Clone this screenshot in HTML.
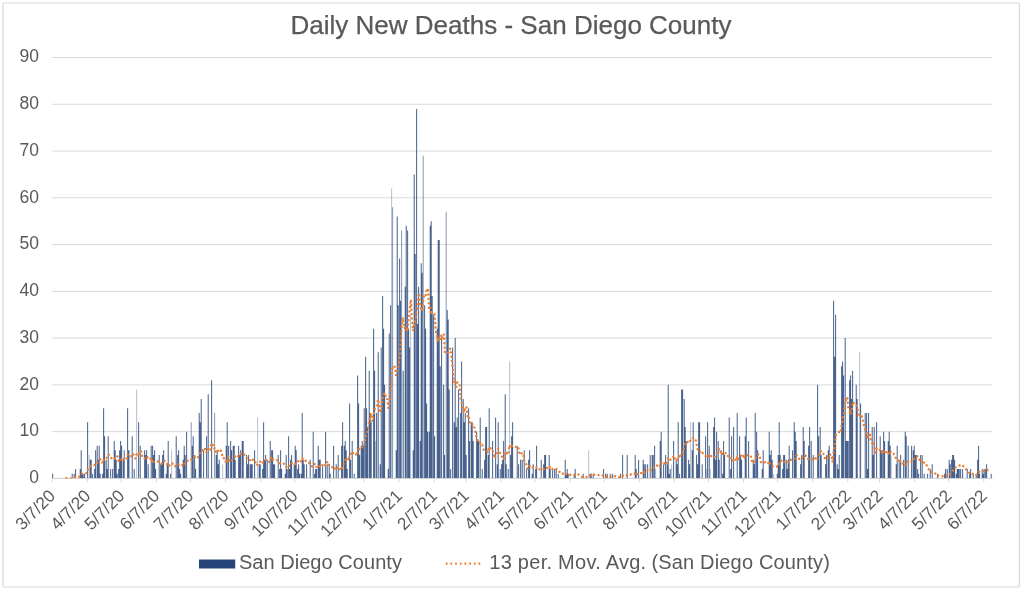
<!DOCTYPE html><html><head><meta charset="utf-8"><title>Daily New Deaths - San Diego County</title>
<style>html,body{margin:0;padding:0;background:#fff}svg{display:block;will-change:transform}text{font-family:"Liberation Sans",sans-serif;fill:#595959}</style></head><body>
<svg width="1023" height="593" viewBox="0 0 1023 593">
<rect x="0" y="0" width="1023" height="593" fill="#fff"/>
<rect x="3" y="3" width="1016.4" height="584" rx="1.2" fill="none" stroke="#d6d6d6" stroke-width="1.15"/>
<text x="511" y="33.5" font-size="26" text-anchor="middle" textLength="441" lengthAdjust="spacing" stroke="#595959" stroke-width="0.25">Daily New Deaths - San Diego County</text>
<line x1="52.20" y1="478.40" x2="992.40" y2="478.40" stroke="#d9d9d9" stroke-width="1"/>
<text x="38.9" y="483.20" font-size="17.5" text-anchor="end">0</text>
<line x1="52.20" y1="431.63" x2="992.40" y2="431.63" stroke="#d9d9d9" stroke-width="1"/>
<text x="38.9" y="436.43" font-size="17.5" text-anchor="end">10</text>
<line x1="52.20" y1="384.87" x2="992.40" y2="384.87" stroke="#d9d9d9" stroke-width="1"/>
<text x="38.9" y="389.67" font-size="17.5" text-anchor="end">20</text>
<line x1="52.20" y1="338.10" x2="992.40" y2="338.10" stroke="#d9d9d9" stroke-width="1"/>
<text x="38.9" y="342.90" font-size="17.5" text-anchor="end">30</text>
<line x1="52.20" y1="291.33" x2="992.40" y2="291.33" stroke="#d9d9d9" stroke-width="1"/>
<text x="38.9" y="296.13" font-size="17.5" text-anchor="end">40</text>
<line x1="52.20" y1="244.57" x2="992.40" y2="244.57" stroke="#d9d9d9" stroke-width="1"/>
<text x="38.9" y="249.37" font-size="17.5" text-anchor="end">50</text>
<line x1="52.20" y1="197.80" x2="992.40" y2="197.80" stroke="#d9d9d9" stroke-width="1"/>
<text x="38.9" y="202.60" font-size="17.5" text-anchor="end">60</text>
<line x1="52.20" y1="151.03" x2="992.40" y2="151.03" stroke="#d9d9d9" stroke-width="1"/>
<text x="38.9" y="155.83" font-size="17.5" text-anchor="end">70</text>
<line x1="52.20" y1="104.27" x2="992.40" y2="104.27" stroke="#d9d9d9" stroke-width="1"/>
<text x="38.9" y="109.07" font-size="17.5" text-anchor="end">80</text>
<line x1="52.20" y1="57.50" x2="992.40" y2="57.50" stroke="#d9d9d9" stroke-width="1"/>
<text x="38.9" y="62.30" font-size="17.5" text-anchor="end">90</text>
<line x1="52.20" y1="478.40" x2="52.20" y2="482.40" stroke="#d9d9d9" stroke-width="1"/>
<text font-size="17.3" text-anchor="end" transform="translate(56.40,497.00) rotate(-45)">3/7/20</text>
<line x1="87.33" y1="478.40" x2="87.33" y2="482.40" stroke="#d9d9d9" stroke-width="1"/>
<text font-size="17.3" text-anchor="end" transform="translate(91.53,497.00) rotate(-45)">4/7/20</text>
<line x1="121.33" y1="478.40" x2="121.33" y2="482.40" stroke="#d9d9d9" stroke-width="1"/>
<text font-size="17.3" text-anchor="end" transform="translate(125.53,497.00) rotate(-45)">5/7/20</text>
<line x1="156.46" y1="478.40" x2="156.46" y2="482.40" stroke="#d9d9d9" stroke-width="1"/>
<text font-size="17.3" text-anchor="end" transform="translate(160.66,497.00) rotate(-45)">6/7/20</text>
<line x1="190.46" y1="478.40" x2="190.46" y2="482.40" stroke="#d9d9d9" stroke-width="1"/>
<text font-size="17.3" text-anchor="end" transform="translate(194.66,497.00) rotate(-45)">7/7/20</text>
<line x1="225.59" y1="478.40" x2="225.59" y2="482.40" stroke="#d9d9d9" stroke-width="1"/>
<text font-size="17.3" text-anchor="end" transform="translate(229.79,497.00) rotate(-45)">8/7/20</text>
<line x1="260.73" y1="478.40" x2="260.73" y2="482.40" stroke="#d9d9d9" stroke-width="1"/>
<text font-size="17.3" text-anchor="end" transform="translate(264.93,497.00) rotate(-45)">9/7/20</text>
<line x1="294.72" y1="478.40" x2="294.72" y2="482.40" stroke="#d9d9d9" stroke-width="1"/>
<text font-size="17.3" text-anchor="end" transform="translate(298.92,497.00) rotate(-45)">10/7/20</text>
<line x1="329.86" y1="478.40" x2="329.86" y2="482.40" stroke="#d9d9d9" stroke-width="1"/>
<text font-size="17.3" text-anchor="end" transform="translate(334.06,497.00) rotate(-45)">11/7/20</text>
<line x1="363.86" y1="478.40" x2="363.86" y2="482.40" stroke="#d9d9d9" stroke-width="1"/>
<text font-size="17.3" text-anchor="end" transform="translate(368.06,497.00) rotate(-45)">12/7/20</text>
<line x1="398.99" y1="478.40" x2="398.99" y2="482.40" stroke="#d9d9d9" stroke-width="1"/>
<text font-size="17.3" text-anchor="end" transform="translate(403.19,497.00) rotate(-45)">1/7/21</text>
<line x1="434.12" y1="478.40" x2="434.12" y2="482.40" stroke="#d9d9d9" stroke-width="1"/>
<text font-size="17.3" text-anchor="end" transform="translate(438.32,497.00) rotate(-45)">2/7/21</text>
<line x1="465.85" y1="478.40" x2="465.85" y2="482.40" stroke="#d9d9d9" stroke-width="1"/>
<text font-size="17.3" text-anchor="end" transform="translate(470.05,497.00) rotate(-45)">3/7/21</text>
<line x1="500.98" y1="478.40" x2="500.98" y2="482.40" stroke="#d9d9d9" stroke-width="1"/>
<text font-size="17.3" text-anchor="end" transform="translate(505.18,497.00) rotate(-45)">4/7/21</text>
<line x1="534.98" y1="478.40" x2="534.98" y2="482.40" stroke="#d9d9d9" stroke-width="1"/>
<text font-size="17.3" text-anchor="end" transform="translate(539.18,497.00) rotate(-45)">5/7/21</text>
<line x1="570.11" y1="478.40" x2="570.11" y2="482.40" stroke="#d9d9d9" stroke-width="1"/>
<text font-size="17.3" text-anchor="end" transform="translate(574.31,497.00) rotate(-45)">6/7/21</text>
<line x1="604.11" y1="478.40" x2="604.11" y2="482.40" stroke="#d9d9d9" stroke-width="1"/>
<text font-size="17.3" text-anchor="end" transform="translate(608.31,497.00) rotate(-45)">7/7/21</text>
<line x1="639.25" y1="478.40" x2="639.25" y2="482.40" stroke="#d9d9d9" stroke-width="1"/>
<text font-size="17.3" text-anchor="end" transform="translate(643.45,497.00) rotate(-45)">8/7/21</text>
<line x1="674.38" y1="478.40" x2="674.38" y2="482.40" stroke="#d9d9d9" stroke-width="1"/>
<text font-size="17.3" text-anchor="end" transform="translate(678.58,497.00) rotate(-45)">9/7/21</text>
<line x1="708.38" y1="478.40" x2="708.38" y2="482.40" stroke="#d9d9d9" stroke-width="1"/>
<text font-size="17.3" text-anchor="end" transform="translate(712.58,497.00) rotate(-45)">10/7/21</text>
<line x1="743.51" y1="478.40" x2="743.51" y2="482.40" stroke="#d9d9d9" stroke-width="1"/>
<text font-size="17.3" text-anchor="end" transform="translate(747.71,497.00) rotate(-45)">11/7/21</text>
<line x1="777.51" y1="478.40" x2="777.51" y2="482.40" stroke="#d9d9d9" stroke-width="1"/>
<text font-size="17.3" text-anchor="end" transform="translate(781.71,497.00) rotate(-45)">12/7/21</text>
<line x1="812.64" y1="478.40" x2="812.64" y2="482.40" stroke="#d9d9d9" stroke-width="1"/>
<text font-size="17.3" text-anchor="end" transform="translate(816.84,497.00) rotate(-45)">1/7/22</text>
<line x1="847.77" y1="478.40" x2="847.77" y2="482.40" stroke="#d9d9d9" stroke-width="1"/>
<text font-size="17.3" text-anchor="end" transform="translate(851.97,497.00) rotate(-45)">2/7/22</text>
<line x1="879.50" y1="478.40" x2="879.50" y2="482.40" stroke="#d9d9d9" stroke-width="1"/>
<text font-size="17.3" text-anchor="end" transform="translate(883.70,497.00) rotate(-45)">3/7/22</text>
<line x1="914.64" y1="478.40" x2="914.64" y2="482.40" stroke="#d9d9d9" stroke-width="1"/>
<text font-size="17.3" text-anchor="end" transform="translate(918.84,497.00) rotate(-45)">4/7/22</text>
<line x1="948.63" y1="478.40" x2="948.63" y2="482.40" stroke="#d9d9d9" stroke-width="1"/>
<text font-size="17.3" text-anchor="end" transform="translate(952.83,497.00) rotate(-45)">5/7/22</text>
<line x1="983.77" y1="478.40" x2="983.77" y2="482.40" stroke="#d9d9d9" stroke-width="1"/>
<text font-size="17.3" text-anchor="end" transform="translate(987.97,497.00) rotate(-45)">6/7/22</text>
<path d="M52.25 478.40V473.72H53.10V478.40zM71.75 478.40V473.72H72.60V478.40zM73.75 478.40V473.72H74.60V478.40zM75.25 478.40V469.05H76.10V478.40zM79.75 478.40V469.05H80.60V478.40zM80.75 478.40V450.34H81.60V478.40zM81.75 478.40V473.72H82.60V478.40zM82.75 478.40V473.72H83.60V478.40zM84.25 478.40V473.72H85.10V478.40zM87.25 478.40V422.28H88.10V478.40zM89.75 478.40V459.69H90.60V478.40zM90.75 478.40V459.69H91.60V478.40zM92.25 478.40V473.72H93.10V478.40zM94.25 478.40V469.05H95.10V478.40zM95.25 478.40V450.34H96.10V478.40zM96.75 478.40V445.66H97.60V478.40zM97.75 478.40V459.69H98.60V478.40zM98.75 478.40V445.66H99.60V478.40zM99.75 478.40V473.72H100.60V478.40zM102.25 478.40V473.72H103.10V478.40zM103.25 478.40V408.25H104.10V478.40zM104.25 478.40V436.31H105.10V478.40zM105.75 478.40V459.69H106.60V478.40zM106.75 478.40V469.05H107.60V478.40zM107.75 478.40V436.31H108.60V478.40zM110.25 478.40V469.05H111.10V478.40zM112.25 478.40V469.05H113.10V478.40zM113.75 478.40V440.99H114.60V478.40zM114.75 478.40V450.34H115.60V478.40zM115.75 478.40V459.69H116.60V478.40zM116.75 478.40V473.72H117.60V478.40zM118.25 478.40V469.05H119.10V478.40zM119.25 478.40V450.34H120.10V478.40zM120.25 478.40V440.99H121.10V478.40zM121.25 478.40V445.66H122.10V478.40zM122.75 478.40V459.69H123.60V478.40zM123.75 478.40V450.34H124.60V478.40zM127.25 478.40V408.25H128.10V478.40zM128.25 478.40V450.34H129.10V478.40zM131.75 478.40V436.31H132.60V478.40zM133.75 478.40V469.05H134.60V478.40zM138.25 478.40V422.28H139.10V478.40zM139.75 478.40V445.66H140.60V478.40zM144.25 478.40V450.34H145.10V478.40zM145.25 478.40V455.02H146.10V478.40zM146.25 478.40V450.34H147.10V478.40zM147.75 478.40V464.37H148.60V478.40zM150.75 478.40V445.66H151.60V478.40zM152.25 478.40V445.66H153.10V478.40zM153.25 478.40V455.02H154.10V478.40zM154.25 478.40V450.34H155.10V478.40zM155.25 478.40V469.05H156.10V478.40zM158.75 478.40V455.02H159.60V478.40zM160.25 478.40V464.37H161.10V478.40zM161.25 478.40V464.37H162.10V478.40zM162.25 478.40V455.02H163.10V478.40zM163.25 478.40V450.34H164.10V478.40zM165.75 478.40V473.72H166.60V478.40zM166.75 478.40V464.37H167.60V478.40zM167.75 478.40V440.99H168.60V478.40zM170.25 478.40V473.72H171.10V478.40zM175.75 478.40V436.31H176.60V478.40zM177.25 478.40V455.02H178.10V478.40zM178.25 478.40V450.34H179.10V478.40zM179.25 478.40V469.05H180.10V478.40zM180.25 478.40V473.72H181.10V478.40zM182.75 478.40V459.69H183.60V478.40zM183.75 478.40V445.66H184.60V478.40zM184.75 478.40V455.02H185.60V478.40zM186.25 478.40V431.63H187.10V478.40zM191.75 478.40V445.66H192.60V478.40zM192.75 478.40V436.31H193.60V478.40zM194.25 478.40V455.02H195.10V478.40zM195.25 478.40V469.05H196.10V478.40zM198.75 478.40V412.93H199.60V478.40zM199.75 478.40V422.28H200.60V478.40zM200.75 478.40V398.90H201.60V478.40zM203.25 478.40V450.34H204.10V478.40zM206.25 478.40V436.31H207.10V478.40zM207.75 478.40V394.22H208.60V478.40zM211.25 478.40V380.19H212.10V478.40zM215.75 478.40V455.02H216.60V478.40zM216.75 478.40V450.34H217.60V478.40zM217.75 478.40V464.37H218.60V478.40zM218.75 478.40V459.69H219.60V478.40zM225.75 478.40V445.66H226.60V478.40zM226.75 478.40V422.28H227.60V478.40zM228.25 478.40V445.66H229.10V478.40zM230.25 478.40V440.99H231.10V478.40zM231.25 478.40V450.34H232.10V478.40zM232.75 478.40V445.66H233.60V478.40zM233.75 478.40V445.66H234.60V478.40zM234.75 478.40V459.69H235.60V478.40zM238.25 478.40V445.66H239.10V478.40zM239.25 478.40V455.02H240.10V478.40zM240.25 478.40V450.34H241.10V478.40zM241.75 478.40V440.99H242.60V478.40zM242.75 478.40V440.99H243.60V478.40zM246.25 478.40V455.02H247.10V478.40zM247.25 478.40V464.37H248.10V478.40zM248.25 478.40V455.02H249.10V478.40zM249.75 478.40V464.37H250.60V478.40zM250.75 478.40V464.37H251.60V478.40zM251.75 478.40V464.37H252.60V478.40zM254.25 478.40V450.34H255.10V478.40zM258.75 478.40V464.37H259.60V478.40zM259.75 478.40V464.37H260.60V478.40zM262.25 478.40V469.05H263.10V478.40zM263.25 478.40V422.28H264.10V478.40zM264.25 478.40V459.69H265.10V478.40zM265.25 478.40V455.02H266.10V478.40zM266.75 478.40V459.69H267.60V478.40zM269.75 478.40V440.99H270.60V478.40zM271.25 478.40V450.34H272.10V478.40zM272.25 478.40V450.34H273.10V478.40zM273.25 478.40V464.37H274.10V478.40zM274.25 478.40V464.37H275.10V478.40zM277.75 478.40V455.02H278.60V478.40zM279.25 478.40V469.05H280.10V478.40zM280.25 478.40V450.34H281.10V478.40zM281.25 478.40V469.05H282.10V478.40zM284.75 478.40V473.72H285.60V478.40zM285.75 478.40V455.02H286.60V478.40zM286.75 478.40V469.05H287.60V478.40zM288.25 478.40V436.31H289.10V478.40zM289.25 478.40V469.05H290.10V478.40zM290.25 478.40V459.69H291.10V478.40zM291.25 478.40V455.02H292.10V478.40zM293.75 478.40V464.37H294.60V478.40zM294.75 478.40V445.66H295.60V478.40zM295.75 478.40V450.34H296.60V478.40zM297.25 478.40V469.05H298.10V478.40zM298.25 478.40V464.37H299.10V478.40zM299.25 478.40V473.72H300.10V478.40zM300.75 478.40V473.72H301.60V478.40zM301.75 478.40V412.93H302.60V478.40zM302.75 478.40V459.69H303.60V478.40zM303.75 478.40V464.37H304.60V478.40zM306.25 478.40V464.37H307.10V478.40zM309.75 478.40V459.69H310.60V478.40zM312.75 478.40V431.63H313.60V478.40zM314.25 478.40V473.72H315.10V478.40zM315.25 478.40V469.05H316.10V478.40zM316.25 478.40V469.05H317.10V478.40zM317.75 478.40V445.66H318.60V478.40zM318.75 478.40V459.69H319.60V478.40zM319.75 478.40V459.69H320.60V478.40zM322.25 478.40V464.37H323.10V478.40zM325.25 478.40V431.63H326.10V478.40zM326.75 478.40V464.37H327.60V478.40zM328.75 478.40V464.37H329.60V478.40zM329.75 478.40V473.72H330.60V478.40zM333.25 478.40V445.66H334.10V478.40zM335.75 478.40V464.37H336.60V478.40zM337.75 478.40V455.02H338.60V478.40zM341.25 478.40V445.66H342.10V478.40zM342.25 478.40V422.28H343.10V478.40zM343.75 478.40V445.66H344.60V478.40zM344.75 478.40V440.99H345.60V478.40zM345.75 478.40V450.34H346.60V478.40zM346.75 478.40V469.05H347.60V478.40zM349.25 478.40V403.57H350.10V478.40zM350.25 478.40V459.69H351.10V478.40zM351.75 478.40V440.99H352.60V478.40zM353.75 478.40V473.72H354.60V478.40zM357.25 478.40V375.51H358.10V478.40zM358.25 478.40V403.57H359.10V478.40zM359.25 478.40V455.02H360.10V478.40zM360.75 478.40V445.66H361.60V478.40zM361.75 478.40V440.99H362.60V478.40zM362.75 478.40V445.66H363.60V478.40zM363.75 478.40V408.25H364.60V478.40zM365.25 478.40V356.81H366.10V478.40zM366.25 478.40V408.25H367.10V478.40zM367.25 478.40V426.96H368.10V478.40zM368.75 478.40V370.84H369.60V478.40zM369.75 478.40V412.93H370.60V478.40zM370.75 478.40V422.28H371.60V478.40zM373.25 478.40V328.75H374.10V478.40zM374.25 478.40V370.84H375.10V478.40zM376.25 478.40V412.93H377.10V478.40zM377.75 478.40V352.13H378.60V478.40zM379.75 478.40V464.37H380.60V478.40zM380.75 478.40V347.45H381.60V478.40zM382.25 478.40V296.01H383.10V478.40zM383.25 478.40V328.75H384.10V478.40zM384.25 478.40V384.87H385.10V478.40zM387.75 478.40V469.05H388.60V478.40zM388.75 478.40V333.42H389.60V478.40zM390.25 478.40V305.36H391.10V478.40zM395.75 478.40V450.34H396.60V478.40zM396.75 478.40V216.51H397.60V478.40zM397.75 478.40V305.36H398.60V478.40zM399.25 478.40V258.60H400.10V478.40zM400.25 478.40V300.69H401.10V478.40zM402.75 478.40V370.84H403.60V478.40zM404.75 478.40V286.66H405.60V478.40zM405.75 478.40V225.86H406.60V478.40zM407.25 478.40V230.54H408.10V478.40zM408.25 478.40V328.75H409.10V478.40zM409.25 478.40V347.45H410.10V478.40zM412.75 478.40V450.34H413.60V478.40zM413.75 478.40V174.42H414.60V478.40zM414.75 478.40V253.92H415.60V478.40zM416.25 478.40V108.94H417.10V478.40zM417.25 478.40V324.07H418.10V478.40zM418.25 478.40V286.66H419.10V478.40zM419.75 478.40V440.99H420.60V478.40zM420.75 478.40V263.27H421.60V478.40zM421.75 478.40V272.63H422.60V478.40zM424.25 478.40V305.36H425.10V478.40zM425.25 478.40V328.75H426.10V478.40zM426.25 478.40V403.57H427.10V478.40zM427.25 478.40V431.63H428.10V478.40zM428.75 478.40V431.63H429.60V478.40zM429.75 478.40V225.86H430.60V478.40zM430.75 478.40V221.18H431.60V478.40zM431.75 478.40V296.01H432.60V478.40zM433.25 478.40V314.72H434.10V478.40zM434.25 478.40V436.31H435.10V478.40zM436.75 478.40V328.75H437.60V478.40zM437.75 478.40V239.89H438.60V478.40zM438.75 478.40V239.89H439.60V478.40zM439.75 478.40V366.16H440.60V478.40zM441.25 478.40V338.10H442.10V478.40zM443.25 478.40V384.87H444.10V478.40zM444.25 478.40V455.02H445.10V478.40zM446.75 478.40V310.04H447.60V478.40zM447.75 478.40V319.39H448.60V478.40zM448.75 478.40V389.54H449.60V478.40zM450.25 478.40V469.05H451.10V478.40zM452.25 478.40V347.45H453.10V478.40zM453.75 478.40V422.28H454.60V478.40zM454.75 478.40V338.10H455.60V478.40zM455.75 478.40V426.96H456.60V478.40zM456.75 478.40V417.60H457.60V478.40zM458.25 478.40V389.54H459.10V478.40zM460.25 478.40V412.93H461.10V478.40zM461.25 478.40V361.48H462.10V478.40zM462.75 478.40V398.90H463.60V478.40zM463.75 478.40V422.28H464.60V478.40zM464.75 478.40V412.93H465.60V478.40zM465.75 478.40V455.02H466.60V478.40zM468.25 478.40V408.25H469.10V478.40zM469.25 478.40V440.99H470.10V478.40zM470.75 478.40V422.28H471.60V478.40zM471.75 478.40V422.28H472.60V478.40zM472.75 478.40V440.99H473.60V478.40zM476.25 478.40V431.63H477.10V478.40zM477.25 478.40V440.99H478.10V478.40zM478.25 478.40V440.99H479.10V478.40zM479.75 478.40V417.60H480.60V478.40zM481.75 478.40V469.05H482.60V478.40zM484.25 478.40V459.69H485.10V478.40zM485.25 478.40V426.96H486.10V478.40zM486.25 478.40V426.96H487.10V478.40zM487.75 478.40V455.02H488.60V478.40zM488.75 478.40V408.25H489.60V478.40zM492.25 478.40V440.99H493.10V478.40zM495.25 478.40V417.60H496.10V478.40zM496.75 478.40V464.37H497.60V478.40zM497.75 478.40V422.28H498.60V478.40zM499.75 478.40V469.05H500.60V478.40zM501.25 478.40V464.37H502.10V478.40zM502.25 478.40V459.69H503.10V478.40zM503.25 478.40V440.99H504.10V478.40zM504.75 478.40V394.22H505.60V478.40zM505.75 478.40V464.37H506.60V478.40zM507.75 478.40V469.05H508.60V478.40zM510.25 478.40V455.02H511.10V478.40zM511.25 478.40V436.31H512.10V478.40zM512.25 478.40V422.28H513.10V478.40zM516.75 478.40V445.66H517.60V478.40zM518.25 478.40V464.37H519.10V478.40zM520.25 478.40V459.69H521.10V478.40zM521.75 478.40V459.69H522.60V478.40zM523.75 478.40V450.34H524.60V478.40zM526.25 478.40V469.05H527.10V478.40zM528.25 478.40V459.69H529.10V478.40zM529.25 478.40V450.34H530.10V478.40zM531.75 478.40V473.72H532.60V478.40zM532.75 478.40V464.37H533.60V478.40zM535.25 478.40V469.05H536.10V478.40zM536.25 478.40V445.66H537.10V478.40zM540.75 478.40V459.69H541.60V478.40zM543.25 478.40V464.37H544.10V478.40zM544.25 478.40V455.02H545.10V478.40zM545.25 478.40V455.02H546.10V478.40zM548.75 478.40V455.02H549.60V478.40zM549.75 478.40V469.05H550.60V478.40zM552.25 478.40V469.05H553.10V478.40zM554.25 478.40V469.05H555.10V478.40zM555.75 478.40V469.05H556.60V478.40zM557.75 478.40V473.72H558.60V478.40zM564.75 478.40V459.69H565.60V478.40zM565.75 478.40V473.72H566.60V478.40zM566.75 478.40V469.05H567.60V478.40zM567.75 478.40V473.72H568.60V478.40zM573.75 478.40V473.72H574.60V478.40zM574.75 478.40V469.05H575.60V478.40zM582.75 478.40V473.72H583.60V478.40zM589.75 478.40V473.72H590.60V478.40zM590.75 478.40V473.72H591.60V478.40zM592.75 478.40V473.72H593.60V478.40zM603.25 478.40V469.05H604.10V478.40zM605.25 478.40V473.72H606.10V478.40zM606.75 478.40V473.72H607.60V478.40zM609.75 478.40V473.72H610.60V478.40zM612.25 478.40V473.72H613.10V478.40zM620.25 478.40V473.72H621.10V478.40zM622.25 478.40V455.02H623.10V478.40zM626.75 478.40V455.02H627.60V478.40zM634.75 478.40V455.02H635.60V478.40zM635.75 478.40V469.05H636.60V478.40zM638.25 478.40V459.69H639.10V478.40zM642.75 478.40V459.69H643.60V478.40zM643.75 478.40V464.37H644.60V478.40zM645.25 478.40V464.37H646.10V478.40zM647.25 478.40V464.37H648.10V478.40zM649.75 478.40V455.02H650.60V478.40zM651.75 478.40V455.02H652.60V478.40zM652.75 478.40V455.02H653.60V478.40zM654.25 478.40V445.66H655.10V478.40zM659.75 478.40V440.99H660.60V478.40zM660.75 478.40V431.63H661.60V478.40zM663.25 478.40V464.37H664.10V478.40zM665.25 478.40V455.02H666.10V478.40zM666.75 478.40V464.37H667.60V478.40zM667.75 478.40V384.87H668.60V478.40zM668.75 478.40V473.72H669.60V478.40zM669.75 478.40V469.05H670.60V478.40zM673.25 478.40V440.99H674.10V478.40zM675.75 478.40V459.69H676.60V478.40zM676.75 478.40V464.37H677.60V478.40zM677.75 478.40V422.28H678.60V478.40zM679.25 478.40V473.72H680.10V478.40zM681.25 478.40V389.54H682.10V478.40zM682.25 478.40V389.54H683.10V478.40zM683.75 478.40V398.90H684.60V478.40zM684.75 478.40V426.96H685.60V478.40zM685.75 478.40V440.99H686.60V478.40zM688.25 478.40V459.69H689.10V478.40zM689.25 478.40V464.37H690.10V478.40zM691.75 478.40V450.34H692.60V478.40zM692.75 478.40V422.28H693.60V478.40zM696.25 478.40V455.02H697.10V478.40zM697.25 478.40V464.37H698.10V478.40zM698.25 478.40V422.28H699.10V478.40zM699.25 478.40V422.28H700.10V478.40zM701.75 478.40V464.37H702.60V478.40zM705.25 478.40V436.31H706.10V478.40zM707.25 478.40V422.28H708.10V478.40zM708.75 478.40V445.66H709.60V478.40zM713.25 478.40V426.96H714.10V478.40zM714.25 478.40V417.60H715.10V478.40zM715.25 478.40V459.69H716.10V478.40zM716.25 478.40V431.63H717.10V478.40zM717.75 478.40V440.99H718.60V478.40zM718.75 478.40V459.69H719.60V478.40zM720.75 478.40V450.34H721.60V478.40zM722.25 478.40V473.72H723.10V478.40zM723.25 478.40V440.99H724.10V478.40zM724.25 478.40V455.02H725.10V478.40zM728.75 478.40V417.60H729.60V478.40zM730.25 478.40V469.05H731.10V478.40zM731.25 478.40V436.31H732.10V478.40zM733.25 478.40V426.96H734.10V478.40zM736.75 478.40V412.93H737.60V478.40zM739.25 478.40V436.31H740.10V478.40zM740.25 478.40V455.02H741.10V478.40zM741.25 478.40V459.69H742.10V478.40zM744.75 478.40V436.31H745.60V478.40zM745.75 478.40V417.60H746.60V478.40zM748.25 478.40V440.99H749.10V478.40zM752.75 478.40V459.69H753.60V478.40zM753.75 478.40V464.37H754.60V478.40zM754.75 478.40V412.93H755.60V478.40zM756.25 478.40V431.63H757.10V478.40zM757.25 478.40V450.34H758.10V478.40zM761.75 478.40V469.05H762.60V478.40zM762.75 478.40V450.34H763.60V478.40zM768.75 478.40V431.63H769.60V478.40zM769.75 478.40V455.02H770.60V478.40zM770.75 478.40V450.34H771.60V478.40zM771.75 478.40V459.69H772.60V478.40zM776.75 478.40V473.72H777.60V478.40zM777.75 478.40V455.02H778.60V478.40zM778.75 478.40V422.28H779.60V478.40zM779.75 478.40V455.02H780.60V478.40zM782.25 478.40V469.05H783.10V478.40zM783.25 478.40V455.02H784.10V478.40zM784.25 478.40V455.02H785.10V478.40zM785.75 478.40V459.69H786.60V478.40zM786.75 478.40V469.05H787.60V478.40zM787.75 478.40V459.69H788.60V478.40zM788.75 478.40V445.66H789.60V478.40zM792.25 478.40V450.34H793.10V478.40zM793.75 478.40V422.28H794.60V478.40zM794.75 478.40V431.63H795.60V478.40zM795.75 478.40V440.99H796.60V478.40zM800.25 478.40V464.37H801.10V478.40zM801.25 478.40V455.02H802.10V478.40zM802.75 478.40V426.96H803.60V478.40zM803.75 478.40V440.99H804.60V478.40zM808.25 478.40V445.66H809.10V478.40zM809.25 478.40V426.96H810.10V478.40zM810.75 478.40V440.99H811.60V478.40zM812.75 478.40V455.02H813.60V478.40zM817.25 478.40V384.87H818.10V478.40zM818.25 478.40V436.31H819.10V478.40zM819.75 478.40V426.96H820.60V478.40zM820.75 478.40V455.02H821.60V478.40zM825.25 478.40V464.37H826.10V478.40zM826.25 478.40V455.02H827.10V478.40zM827.75 478.40V450.34H828.60V478.40zM828.75 478.40V445.66H829.60V478.40zM833.25 478.40V300.69H834.10V478.40zM834.25 478.40V356.81H835.10V478.40zM835.25 478.40V314.72H836.10V478.40zM836.75 478.40V464.37H837.60V478.40zM837.75 478.40V469.05H838.60V478.40zM838.75 478.40V455.02H839.60V478.40zM841.25 478.40V366.16H842.10V478.40zM842.25 478.40V361.48H843.10V478.40zM843.25 478.40V375.51H844.10V478.40zM844.75 478.40V338.10H845.60V478.40zM845.75 478.40V440.99H846.60V478.40zM846.75 478.40V440.99H847.60V478.40zM847.75 478.40V440.99H848.60V478.40zM849.25 478.40V380.19H850.10V478.40zM850.25 478.40V375.51H851.10V478.40zM851.25 478.40V398.90H852.10V478.40zM852.25 478.40V370.84H853.10V478.40zM855.75 478.40V384.87H856.60V478.40zM856.75 478.40V398.90H857.60V478.40zM860.25 478.40V403.57H861.10V478.40zM864.75 478.40V412.93H865.60V478.40zM866.25 478.40V412.93H867.10V478.40zM867.25 478.40V469.05H868.10V478.40zM868.25 478.40V412.93H869.10V478.40zM871.75 478.40V426.96H872.60V478.40zM872.75 478.40V455.02H873.60V478.40zM873.75 478.40V426.96H874.60V478.40zM876.25 478.40V422.28H877.10V478.40zM879.75 478.40V436.31H880.60V478.40zM880.75 478.40V450.34H881.60V478.40zM881.75 478.40V450.34H882.60V478.40zM883.25 478.40V431.63H884.10V478.40zM884.25 478.40V440.99H885.10V478.40zM887.75 478.40V440.99H888.60V478.40zM888.75 478.40V431.63H889.60V478.40zM889.75 478.40V445.66H890.60V478.40zM895.75 478.40V464.37H896.60V478.40zM896.75 478.40V445.66H897.60V478.40zM898.75 478.40V459.69H899.60V478.40zM900.25 478.40V455.02H901.10V478.40zM903.25 478.40V459.69H904.10V478.40zM904.75 478.40V431.63H905.60V478.40zM905.75 478.40V436.31H906.60V478.40zM907.75 478.40V445.66H908.60V478.40zM911.25 478.40V445.66H912.10V478.40zM912.75 478.40V450.34H913.60V478.40zM913.75 478.40V445.66H914.60V478.40zM914.75 478.40V455.02H915.60V478.40zM915.75 478.40V455.02H916.60V478.40zM917.25 478.40V469.05H918.10V478.40zM918.25 478.40V473.72H919.10V478.40zM920.25 478.40V455.02H921.10V478.40zM921.75 478.40V455.02H922.60V478.40zM923.75 478.40V473.72H924.60V478.40zM927.25 478.40V473.72H928.10V478.40zM929.75 478.40V469.05H930.60V478.40zM931.75 478.40V464.37H932.60V478.40zM937.25 478.40V473.72H938.10V478.40zM944.25 478.40V473.72H945.10V478.40zM945.25 478.40V469.05H946.10V478.40zM946.75 478.40V469.05H947.60V478.40zM948.75 478.40V459.69H949.60V478.40zM949.75 478.40V464.37H950.60V478.40zM951.25 478.40V459.69H952.10V478.40zM952.25 478.40V455.02H953.10V478.40zM953.25 478.40V455.02H954.10V478.40zM954.25 478.40V459.69H955.10V478.40zM955.75 478.40V473.72H956.60V478.40zM956.75 478.40V469.05H957.60V478.40zM957.75 478.40V469.05H958.60V478.40zM958.75 478.40V469.05H959.60V478.40zM960.25 478.40V469.05H961.10V478.40zM962.25 478.40V469.05H963.10V478.40zM966.75 478.40V469.05H967.60V478.40zM969.25 478.40V473.72H970.10V478.40zM970.25 478.40V469.05H971.10V478.40zM972.75 478.40V473.72H973.60V478.40zM975.75 478.40V473.72H976.60V478.40zM977.25 478.40V459.69H978.10V478.40zM978.25 478.40V445.66H979.10V478.40zM979.25 478.40V473.72H980.10V478.40zM981.75 478.40V469.05H982.60V478.40zM982.75 478.40V473.72H983.60V478.40zM983.75 478.40V469.05H984.60V478.40zM985.25 478.40V469.05H986.10V478.40zM986.25 478.40V464.37H987.10V478.40zM990.75 478.40V473.72H991.60V478.40z" fill="#264478"/>
<path d="M88.75 478.40V455.02H89.60V478.40zM129.25 478.40V450.34H130.10V478.40zM136.25 478.40V389.54H137.10V478.40zM171.25 478.40V450.34H172.10V478.40zM222.25 478.40V464.37H223.10V478.40zM257.25 478.40V417.60H258.10V478.40zM375.25 478.40V440.99H376.10V478.40zM391.25 478.40V188.45H392.10V478.40zM410.25 478.40V314.72H411.10V478.40zM509.25 478.40V361.48H510.10V478.40zM588.25 478.40V450.34H589.10V478.40zM655.25 478.40V469.05H656.10V478.40zM671.25 478.40V464.37H672.10V478.40zM690.25 478.40V422.28H691.10V478.40zM706.25 478.40V469.05H707.10V478.40zM709.75 478.40V469.05H710.60V478.40zM773.25 478.40V473.72H774.10V478.40zM859.25 478.40V352.13H860.10V478.40zM890.75 478.40V455.02H891.60V478.40z" fill="#264478" fill-opacity="0.4"/>
<path d="M190.75 478.40V422.28H191.60V478.40zM214.25 478.40V412.93H215.10V478.40zM392.25 478.40V207.15H393.10V478.40zM401.25 478.40V230.54H402.10V478.40zM422.75 478.40V155.71H423.60V478.40zM445.75 478.40V211.83H446.60V478.40z" fill="#264478" fill-opacity="0.65"/>
<line x1="52.20" y1="478.50" x2="992.40" y2="478.50" stroke="#d2d2d2" stroke-width="1"/>
<clipPath id="pc"><rect x="52.20" y="0" width="940.20" height="478.60"/></clipPath>
<polyline clip-path="url(#pc)" points="66.37,478.04 67.50,478.40 68.63,478.40 69.77,478.40 70.90,478.40 72.03,478.04 73.17,478.04 74.30,477.68 75.43,476.96 76.57,476.96 77.70,476.96 78.83,476.96 79.97,476.24 81.10,474.08 82.23,473.72 83.37,473.36 84.50,473.00 85.63,473.00 86.77,473.36 87.90,469.05 89.03,467.61 90.17,466.89 91.30,465.45 92.43,465.09 93.57,465.09 94.70,465.09 95.83,465.09 96.97,462.93 98.10,461.85 99.23,459.69 100.36,459.33 101.50,459.33 102.63,463.29 103.76,459.69 104.90,457.89 106.03,457.89 107.16,457.53 108.30,454.30 109.43,455.02 110.56,456.46 111.70,458.97 112.83,459.69 113.96,459.33 115.10,457.53 116.23,456.10 117.36,456.10 118.50,460.77 119.63,461.85 120.76,460.41 121.90,458.61 123.03,460.41 124.16,458.25 125.30,458.97 126.43,458.97 127.56,454.30 128.70,455.02 129.83,455.02 130.96,456.46 132.10,453.58 133.23,454.30 134.36,455.74 135.50,458.61 136.63,454.30 137.76,455.74 138.90,453.58 140.03,451.06 141.16,451.06 142.30,456.46 143.43,458.61 144.56,458.61 145.70,456.82 146.83,457.89 147.96,456.82 149.10,457.53 150.23,457.53 151.36,461.85 152.50,459.33 153.63,461.85 154.76,462.21 155.90,461.49 157.03,461.49 158.16,461.49 159.30,461.85 160.43,462.57 161.56,463.65 162.70,462.93 163.83,460.77 164.96,460.77 166.10,462.93 167.23,464.37 168.36,463.29 169.50,465.45 170.63,465.81 171.76,463.65 172.90,463.65 174.03,465.45 175.16,466.53 176.30,464.37 177.43,464.37 178.56,464.37 179.70,463.65 180.83,463.65 181.96,464.73 183.10,466.17 184.23,463.65 185.36,462.21 186.50,460.77 187.63,460.77 188.76,460.77 189.90,460.77 191.03,459.69 192.16,458.97 193.29,457.89 194.43,456.82 195.56,456.46 196.69,456.46 197.83,457.89 198.96,455.38 200.09,452.86 201.23,450.34 202.36,450.34 203.49,448.18 204.63,448.18 205.76,452.50 206.89,451.78 208.03,448.54 209.16,450.34 210.29,451.06 211.43,443.50 212.56,443.50 213.69,448.54 214.83,447.82 215.96,452.14 217.09,449.98 218.23,451.06 219.36,449.62 220.49,449.62 221.63,452.86 222.76,458.25 223.89,458.25 225.03,458.25 226.16,463.29 227.29,458.97 228.43,456.46 229.56,461.49 230.69,460.41 231.83,460.41 232.96,458.97 234.09,457.89 235.23,456.46 236.36,456.46 237.49,457.53 238.63,455.02 239.76,453.22 240.89,453.58 242.03,455.02 243.16,454.66 244.29,454.66 245.43,457.53 246.56,457.89 247.69,459.33 248.83,460.05 249.96,460.41 251.09,459.33 252.23,458.25 253.36,460.77 254.49,460.41 255.63,462.57 256.76,465.45 257.89,463.65 259.03,462.57 260.16,461.49 261.29,463.29 262.43,463.65 263.56,461.13 264.69,460.77 265.83,460.05 266.96,459.69 268.09,459.69 269.23,461.85 270.36,458.97 271.49,456.82 272.63,459.33 273.76,459.33 274.89,459.33 276.03,459.33 277.16,460.05 278.29,462.57 279.43,463.29 280.56,462.93 281.69,463.65 282.83,463.65 283.96,463.65 285.09,466.17 286.23,466.53 287.36,467.97 288.49,465.81 289.62,466.17 290.76,464.73 291.89,462.93 293.02,464.73 294.16,464.37 295.29,464.01 296.42,462.57 297.56,461.85 298.69,460.77 299.82,460.77 300.96,462.21 302.09,457.89 303.22,459.69 304.36,459.33 305.49,460.77 306.62,461.49 307.76,461.49 308.89,462.57 310.02,463.65 311.16,465.81 312.29,466.53 313.42,464.01 314.56,464.01 315.69,463.65 316.82,467.97 317.96,466.89 319.09,466.53 320.22,465.09 321.36,466.17 322.49,465.09 323.62,465.09 324.76,466.53 325.89,462.93 327.02,461.85 328.16,465.45 329.29,464.73 330.42,465.09 331.56,465.81 332.69,468.33 333.82,467.25 334.96,468.69 336.09,467.61 337.22,468.69 338.36,466.89 339.49,466.89 340.62,470.49 341.76,469.05 342.89,464.73 344.02,463.29 345.16,460.77 346.29,458.61 347.42,457.89 348.56,460.41 349.69,454.66 350.82,454.30 351.96,451.42 353.09,453.22 354.22,452.86 355.36,452.86 356.49,455.38 357.62,451.78 358.76,448.54 359.89,449.62 361.02,449.26 362.16,447.10 363.29,444.58 364.42,444.94 365.56,437.03 366.69,434.51 367.82,430.55 368.96,422.64 370.09,417.60 371.22,413.29 372.36,421.20 373.49,415.44 374.62,408.97 375.76,408.61 376.89,406.45 378.02,399.26 379.16,404.65 380.29,412.93 381.42,408.25 382.55,398.18 383.69,394.94 384.82,392.78 385.95,397.10 387.09,397.10 388.22,407.89 389.35,405.01 390.49,394.58 391.62,377.31 392.75,366.16 393.89,366.16 395.02,367.24 396.15,375.15 397.29,369.04 398.42,367.24 399.55,357.53 400.69,343.86 401.82,324.79 402.95,317.23 404.09,328.39 405.22,326.95 406.35,329.83 407.49,331.62 408.62,320.11 409.75,310.04 410.89,299.61 412.02,319.75 413.15,330.91 414.29,324.43 415.42,320.83 416.55,311.48 417.69,307.88 418.82,293.13 419.95,305.00 421.09,307.88 422.22,311.12 423.35,297.81 424.49,294.57 425.62,295.65 426.75,289.89 427.89,288.46 429.02,308.24 430.15,306.08 431.29,314.72 432.42,312.56 433.55,314.72 434.69,314.36 435.82,330.91 436.95,335.22 438.09,341.70 439.22,336.66 440.35,339.54 441.49,334.50 442.62,338.10 443.75,334.50 444.89,352.13 446.02,351.41 447.15,352.49 448.29,352.85 449.42,349.25 450.55,348.53 451.69,360.04 452.82,368.32 453.95,382.35 455.09,380.19 456.22,387.03 457.35,382.35 458.49,382.71 459.62,384.51 460.75,399.98 461.89,403.93 463.02,410.05 464.15,412.57 465.29,408.25 466.42,406.45 467.55,416.52 468.69,415.44 469.82,423.36 470.95,423.00 472.09,423.36 473.22,427.32 474.35,427.32 475.48,432.35 476.62,437.75 477.75,440.99 478.88,442.43 480.02,442.79 481.15,444.58 482.28,443.86 483.42,449.26 484.55,450.70 485.68,451.06 486.82,451.42 487.95,452.50 489.08,447.10 490.22,447.10 491.35,450.70 492.48,450.70 493.62,453.58 494.75,458.25 495.88,453.58 497.02,453.22 498.15,448.90 499.28,450.34 500.42,453.58 501.55,456.46 502.68,456.82 503.82,459.33 504.95,452.86 506.08,451.78 507.22,454.66 508.35,453.94 509.48,444.94 510.62,447.82 511.75,445.66 512.88,445.66 514.02,445.66 515.15,446.38 516.28,447.46 517.42,446.38 518.55,448.18 519.68,454.66 520.82,454.30 521.95,452.86 523.08,453.58 524.22,460.41 525.35,462.21 526.48,464.73 527.62,469.05 528.75,467.61 529.88,465.45 531.02,465.45 532.15,467.61 533.28,467.61 534.42,467.61 535.55,468.33 536.68,467.25 537.82,467.25 538.95,469.41 540.08,469.41 541.22,468.69 542.35,468.69 543.48,469.05 544.62,469.41 545.75,467.61 546.88,467.97 548.02,469.05 549.15,467.25 550.28,467.25 551.42,469.77 552.55,469.05 553.68,469.05 554.82,468.33 555.95,469.05 557.08,469.05 558.22,469.77 559.35,471.56 560.48,473.36 561.62,473.36 562.75,473.36 563.88,475.16 565.02,474.44 566.15,474.08 567.28,474.08 568.42,473.72 569.55,474.44 570.68,475.16 571.81,475.16 572.95,475.52 574.08,475.16 575.21,474.44 576.35,474.44 577.48,474.44 578.61,474.44 579.75,475.88 580.88,476.24 582.01,476.96 583.15,476.96 584.28,476.96 585.41,476.96 586.55,476.96 587.68,476.96 588.81,475.16 589.95,475.52 591.08,475.16 592.21,475.16 593.35,474.80 594.48,474.80 595.61,474.80 596.75,474.80 597.88,475.16 599.01,475.16 600.15,475.16 601.28,475.16 602.41,475.16 603.55,476.60 604.68,476.96 605.81,476.96 606.95,476.60 608.08,476.96 609.21,476.96 610.35,476.60 611.48,476.60 612.61,476.24 613.75,476.24 614.88,476.24 616.01,476.24 617.15,476.24 618.28,476.96 619.41,476.96 620.55,476.96 621.68,477.32 622.81,475.52 623.95,475.52 625.08,475.88 626.21,475.88 627.35,474.44 628.48,474.44 629.61,474.44 630.75,474.44 631.88,474.44 633.01,474.44 634.15,474.44 635.28,473.00 636.41,472.28 637.55,474.08 638.68,472.64 639.81,472.64 640.95,472.64 642.08,474.44 643.21,473.00 644.35,471.92 645.48,470.85 646.61,470.85 647.75,469.77 648.88,469.77 650.01,469.77 651.15,470.49 652.28,468.69 653.41,468.33 654.55,465.81 655.68,465.09 656.81,465.09 657.95,466.53 659.08,467.61 660.21,465.81 661.35,462.21 662.48,463.29 663.61,462.21 664.74,464.01 665.88,462.21 667.01,462.93 668.14,457.53 669.28,459.69 670.41,459.69 671.54,458.61 672.68,458.61 673.81,455.74 674.94,458.61 676.08,460.77 677.21,459.69 678.34,456.46 679.48,456.10 680.61,457.89 681.74,452.14 682.88,452.50 684.01,446.74 685.14,443.50 686.28,441.71 687.41,441.71 688.54,443.15 689.68,442.07 690.81,439.19 691.94,438.11 693.08,438.11 694.21,438.47 695.34,438.47 696.48,443.50 697.61,449.26 698.74,451.06 699.88,450.70 701.01,453.58 702.14,452.50 703.28,453.94 704.41,455.02 705.54,456.10 706.68,457.53 707.81,457.53 708.94,455.02 710.08,454.30 711.21,456.10 712.34,457.18 713.48,457.53 714.61,457.18 715.74,455.74 716.88,453.22 718.01,450.34 719.14,448.90 720.28,452.14 721.41,450.70 722.54,454.66 723.68,454.30 724.81,453.22 725.94,453.22 727.08,453.22 728.21,457.18 729.34,457.18 730.48,457.89 731.61,458.25 732.74,461.13 733.88,458.61 735.01,458.61 736.14,460.77 737.28,456.10 738.41,458.97 739.54,457.53 740.68,455.74 741.81,454.30 742.94,454.30 744.08,458.97 745.21,456.46 746.34,455.02 747.48,455.02 748.61,456.10 749.74,456.10 750.88,456.10 752.01,461.13 753.14,459.69 754.28,461.85 755.41,458.61 756.54,456.46 757.67,454.30 758.81,454.30 759.94,457.53 761.07,462.21 762.21,461.49 763.34,462.21 764.47,462.21 765.61,462.21 766.74,462.21 767.87,463.65 769.01,461.13 770.14,464.37 771.27,465.81 772.41,466.53 773.54,466.17 774.67,466.17 775.81,466.17 776.94,466.53 778.07,466.89 779.21,462.57 780.34,460.77 781.47,460.77 782.61,460.05 783.74,461.85 784.87,461.85 786.01,462.57 787.14,463.29 788.27,462.21 789.41,459.69 790.54,459.69 791.67,460.05 792.81,459.69 793.94,459.69 795.07,457.89 796.21,455.02 797.34,455.74 798.47,457.53 799.61,459.33 800.74,459.69 801.87,458.61 803.01,456.10 804.14,455.74 805.27,455.74 806.41,455.74 807.54,457.89 808.67,459.69 809.81,459.33 810.94,459.33 812.07,459.33 813.21,457.53 814.34,457.53 815.47,458.61 816.61,460.41 817.74,457.18 818.87,456.82 820.01,452.86 821.14,451.06 822.27,451.06 823.41,453.58 824.54,457.53 825.67,459.33 826.81,457.53 827.94,457.18 829.07,454.66 830.21,454.66 831.34,454.66 832.47,461.85 833.61,451.42 834.74,446.02 835.87,435.23 837.01,434.15 838.14,433.43 839.27,431.63 840.41,432.71 841.54,425.88 842.67,419.04 843.81,413.65 844.94,402.85 846.07,399.98 847.21,397.10 848.34,407.89 849.47,409.69 850.61,414.37 851.74,409.33 852.87,401.77 854.00,403.57 855.14,403.57 856.27,405.01 857.40,407.89 858.54,415.80 859.67,416.88 860.80,414.01 861.94,416.88 863.07,419.76 864.20,427.32 865.34,430.19 866.47,431.27 867.60,438.83 868.74,433.79 869.87,433.79 871.00,440.99 872.14,443.15 873.27,441.35 874.40,447.10 875.54,452.86 876.67,448.54 877.80,448.54 878.94,448.54 880.07,450.34 881.20,453.22 882.34,451.78 883.47,453.22 884.60,450.34 885.74,450.34 886.87,454.30 888.00,453.22 889.14,453.58 890.27,451.06 891.40,453.58 892.54,453.58 893.67,453.58 894.80,456.82 895.94,457.89 897.07,457.53 898.20,461.13 899.34,462.57 900.47,460.77 901.60,460.77 902.74,463.65 903.87,465.81 905.00,464.73 906.14,463.29 907.27,463.29 908.40,460.77 909.54,460.77 910.67,461.85 911.80,461.85 912.94,459.69 914.07,458.61 915.20,458.61 916.34,456.82 917.47,456.10 918.60,457.18 919.74,460.77 920.87,462.21 922.00,460.41 923.14,462.93 924.27,462.57 925.40,462.57 926.54,465.09 927.67,466.89 928.80,469.41 929.94,470.49 931.07,472.28 932.20,471.92 933.34,472.28 934.47,472.28 935.60,474.08 936.74,475.88 937.87,475.52 939.00,475.88 940.14,475.88 941.27,475.88 942.40,476.24 943.54,476.24 944.67,476.60 945.80,475.88 946.93,476.24 948.07,476.24 949.20,474.80 950.33,473.72 951.47,472.28 952.60,470.85 953.73,469.05 954.87,467.61 956.00,467.25 957.13,466.53 958.27,465.81 959.40,465.45 960.53,465.45 961.67,466.17 962.80,465.45 963.93,466.89 965.07,467.97 966.20,469.41 967.33,470.49 968.47,472.28 969.60,473.36 970.73,473.00 971.87,473.72 973.00,474.08 974.13,474.80 975.27,475.52 976.40,475.16 977.53,474.44 978.67,471.92 979.80,471.56 980.93,471.56 982.07,471.56 983.20,471.21 984.33,470.85 985.47,470.85 986.60,469.77 987.73,470.13 988.87,470.13 990.00,470.13 991.13,470.13" fill="none" stroke="#ED7D31" stroke-width="2.4" stroke-dasharray="0.01 4.4" stroke-linecap="round" stroke-linejoin="round"/>
<rect x="199" y="559.5" width="36.2" height="9" fill="#264478"/>
<text x="238.9" y="568.5" font-size="20" textLength="163" lengthAdjust="spacing">San Diego County</text>
<line x1="445.8" y1="563.7" x2="481.5" y2="563.7" stroke="#ED7D31" stroke-width="2.3" stroke-dasharray="1.7 2.98"/>
<text x="489.3" y="568.5" font-size="20" textLength="156.8" lengthAdjust="spacing">13 per. Mov. Avg.</text>
<text x="651.5" y="568.5" font-size="20" textLength="178.4" lengthAdjust="spacing">(San Diego County)</text>
</svg></body></html>
